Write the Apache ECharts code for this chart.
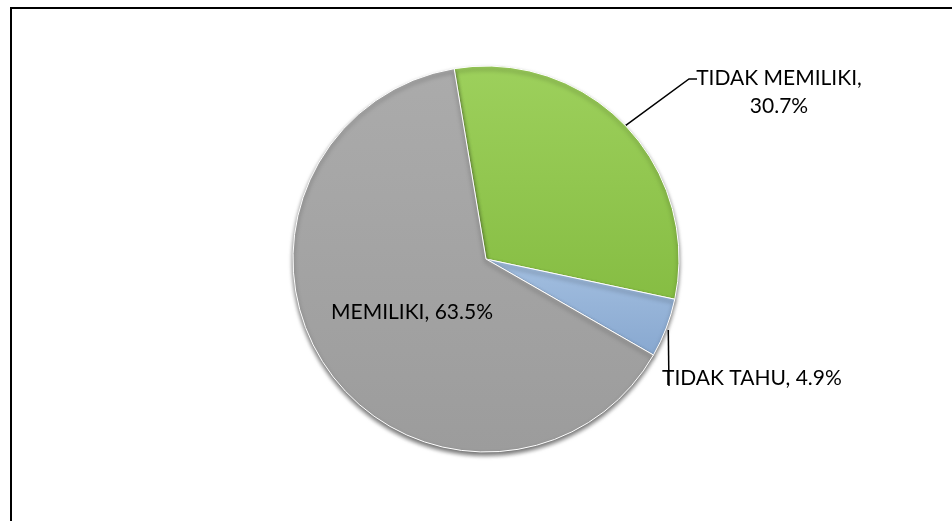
<!DOCTYPE html>
<html>
<head>
<meta charset="utf-8">
<script src="https://cdn.jsdelivr.net/npm/echarts@6/dist/echarts.min.js"></script>
<style>
  html, body { margin: 0; padding: 0; background: #fff; }
  #chart { width: 952px; height: 521px; }
</style>
</head>
<body>
<div id="chart"></div>
<script>
var categories = ['TIDAK MEMILIKI', 'TIDAK TAHU', 'MEMILIKI'];
var values = [30.7, 4.9, 63.5];
var colors = [
  ['#9dd05c', '#86bd43'],
  ['#a3bfe0', '#88a8d0'],
  ['#ababab', '#9c9c9c']
];

var chart = echarts.init(document.getElementById('chart'));

var pieData = categories.map(function (name, i) {
  return {
    name: name,
    value: values[i],
    itemStyle: {
      color: new echarts.graphic.LinearGradient(0, 0, 0, 1, [
        { offset: 0, color: colors[i][0] },
        { offset: 1, color: colors[i][1] }
      ])
    }
  };
});

// where each label sits (and its leader line)
function placeLabel(params) {
  var p0 = params.labelLinePoints ? params.labelLinePoints[0] : null;
  if (params.dataIndex === 0) {
    return {
      x: 779, y: 92, align: 'center', verticalAlign: 'middle',
      labelLinePoints: [p0, [689, 79], [697, 79]]
    };
  }
  if (params.dataIndex === 1) {
    return {
      x: 662, y: 378, align: 'left', verticalAlign: 'middle',
      labelLinePoints: [[p0[0] + 2, p0[1] + 2], [669, 386], [669, 386]]
    };
  }
  return { x: 412, y: 312, align: 'center', verticalAlign: 'middle' };
}

var option = {
  animation: false,
  graphic: [{
    type: 'rect',
    shape: { x: 11, y: 8, width: 1000, height: 1000 },
    style: { fill: 'none', stroke: '#000', lineWidth: 2 },
    silent: true
  }],
  series: [{
    type: 'pie',
    center: [486, 259],
    radius: 193,
    startAngle: 99.5,
    clockwise: true,
    data: pieData,
    itemStyle: {
      borderColor: '#ffffff',
      borderWidth: 1,
      shadowBlur: 4,
      shadowOffsetY: 3,
      shadowColor: 'rgba(0,0,0,0.55)'
    },
    label: {
      show: true,
      position: 'outside',
      formatter: function (p) {
        return p.dataIndex === 0 ? p.name + ',\n' + p.value + '%' : p.name + ', ' + p.value + '%';
      },
      fontFamily: 'Lato',
      fontSize: 21,
      color: '#000',
      lineHeight: 28
    },
    labelLine: {
      show: true,
      lineStyle: { color: '#000', width: 1.5 }
    },
    labelLayout: placeLabel,
    emphasis: { disabled: true }
  }]
};

// MEMILIKI has no leader line
option.series[0].data[2].labelLine = { show: false };

chart.setOption(option);
window.addEventListener('resize', function () {
  chart.resize();
});
</script>
</body>
</html>
